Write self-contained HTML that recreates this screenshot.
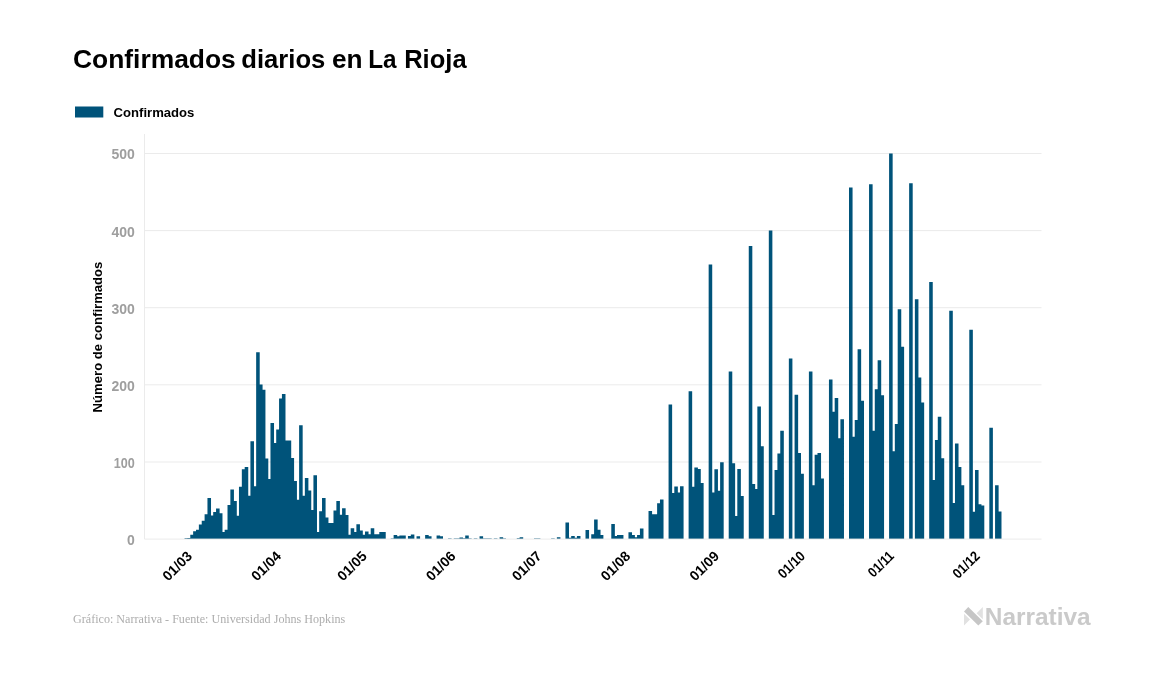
<!DOCTYPE html>
<html lang="es">
<head>
<meta charset="utf-8">
<title>Confirmados diarios en La Rioja</title>
<style>
html,body{margin:0;padding:0;background:#fff;}
body{width:1157px;height:674px;overflow:hidden;position:relative;font-family:"Liberation Sans",sans-serif;}
svg{position:absolute;left:0;top:0;will-change:transform;}
svg text{font-family:"Liberation Sans",sans-serif;}
.title{font-weight:700;font-size:26.5px;fill:#000;}
.legend{font-weight:700;font-size:13.7px;fill:#000;}
.ylab text{font-weight:700;font-size:14px;fill:#9e9e9e;}
.xlab text{font-weight:700;font-size:14px;fill:#000;}
.ytitle{font-weight:700;font-size:13.4px;fill:#000;}
.foot{font-family:"Liberation Serif",serif;font-size:12.6px;fill:#adadad;}
.logo{font-weight:700;font-size:24.5px;fill:#cacaca;}
.grid line{stroke:#ebebeb;stroke-width:1;}
</style>
</head>
<body>
<svg width="1157" height="674" viewBox="0 0 1157 674">
<rect width="1157" height="674" fill="#fff"/>
<g id="title" class="title"><text x="73.0" y="67.7" textLength="162.8" lengthAdjust="spacingAndGlyphs">Confirmados</text><text x="241.3" y="67.7" textLength="84.0" lengthAdjust="spacingAndGlyphs">diarios</text><text x="332.0" y="67.7" textLength="30.6" lengthAdjust="spacingAndGlyphs">en</text><text x="368.2" y="67.7" textLength="28.4" lengthAdjust="spacingAndGlyphs">La</text><text x="404.2" y="67.7" textLength="62.4" lengthAdjust="spacingAndGlyphs">Rioja</text></g>
<rect id="swatch" x="75" y="106.5" width="28.3" height="11" fill="#00537a"/>
<text id="legend" class="legend" x="113.6" y="116.9" textLength="80.8" lengthAdjust="spacingAndGlyphs">Confirmados</text>
<g class="grid"><line x1="144.5" y1="462.0" x2="1041.5" y2="462.0"/><line x1="144.5" y1="384.8" x2="1041.5" y2="384.8"/><line x1="144.5" y1="307.7" x2="1041.5" y2="307.7"/><line x1="144.5" y1="230.6" x2="1041.5" y2="230.6"/><line x1="144.5" y1="153.5" x2="1041.5" y2="153.5"/>
<line x1="144.5" y1="134" x2="144.5" y2="539.1"/>
</g>
<g class="ylab" id="ylab"><text x="134.8" y="545.0" text-anchor="end">0</text><text x="134.8" y="467.9" text-anchor="end" textLength="21" lengthAdjust="spacingAndGlyphs">100</text><text x="134.8" y="390.7" text-anchor="end">200</text><text x="134.8" y="313.6" text-anchor="end">300</text><text x="134.8" y="236.5" text-anchor="end">400</text><text x="134.8" y="159.4" text-anchor="end">500</text></g>
<text id="ytitle" class="ytitle" transform="translate(102 337) rotate(-90)" text-anchor="middle" textLength="150.8" lengthAdjust="spacingAndGlyphs">Número de confirmados</text>
<path id="bars" fill="#00537a" d="M184.55 539V538.3h3.56V539zM187.41 539V538.1h3.56V539zM190.28 539V534.7h3.56V539zM193.14 539V531.2h3.56V539zM196.01 539V529.7h3.56V539zM198.87 539V524.5h3.56V539zM201.73 539V520.7h3.56V539zM204.60 539V514.3h3.56V539zM207.46 539V497.9h3.56V539zM210.33 539V515.6h3.56V539zM213.19 539V512.0h3.56V539zM216.05 539V508.5h3.56V539zM218.92 539V513.2h3.56V539zM221.78 539V532.0h3.56V539zM224.65 539V529.7h3.56V539zM227.51 539V505.1h3.56V539zM230.37 539V489.4h3.56V539zM233.24 539V501.1h3.56V539zM236.10 539V515.8h3.56V539zM238.97 539V486.8h3.56V539zM241.83 539V469.3h3.56V539zM244.69 539V467.0h3.56V539zM247.56 539V495.8h3.56V539zM250.42 539V441.3h3.56V539zM253.29 539V486.3h3.56V539zM256.15 539V352.3h3.56V539zM259.01 539V384.5h3.56V539zM261.88 539V389.8h3.56V539zM264.74 539V458.6h3.56V539zM267.61 539V479.0h3.56V539zM270.47 539V423.0h3.56V539zM273.33 539V443.0h3.56V539zM276.20 539V429.4h3.56V539zM279.06 539V398.5h3.56V539zM281.93 539V394.1h3.56V539zM284.79 539V440.5h3.56V539zM287.65 539V440.5h3.56V539zM290.52 539V458.1h3.56V539zM293.38 539V481.1h3.56V539zM296.25 539V499.8h3.56V539zM299.11 539V425.2h3.56V539zM301.97 539V495.8h3.56V539zM304.84 539V478.0h3.56V539zM307.70 539V490.6h3.56V539zM310.57 539V510.0h3.56V539zM313.43 539V475.2h3.56V539zM316.29 539V532.1h3.56V539zM319.16 539V511.3h3.56V539zM322.02 539V497.9h3.56V539zM324.89 539V517.4h3.56V539zM327.75 539V523.1h3.56V539zM330.61 539V523.1h3.56V539zM333.48 539V510.5h3.56V539zM336.34 539V501.0h3.56V539zM339.21 539V514.8h3.56V539zM342.07 539V508.2h3.56V539zM344.93 539V515.1h3.56V539zM347.80 539V534.7h3.56V539zM350.66 539V528.3h3.56V539zM353.53 539V532.1h3.56V539zM356.39 539V524.3h3.56V539zM359.25 539V530.4h3.56V539zM362.12 539V534.7h3.56V539zM364.98 539V531.6h3.56V539zM367.85 539V534.2h3.56V539zM370.71 539V528.2h3.56V539zM373.57 539V534.3h3.56V539zM376.44 539V534.3h3.56V539zM379.30 539V532.1h3.56V539zM382.17 539V532.1h3.56V539zM390.76 539V538.4h3.56V539zM393.62 539V535.1h3.56V539zM396.49 539V536.3h3.56V539zM399.35 539V535.4h3.56V539zM402.21 539V535.4h3.56V539zM407.94 539V536.1h3.56V539zM410.81 539V534.5h3.56V539zM416.53 539V536.3h3.56V539zM425.13 539V535.1h3.56V539zM427.99 539V536.3h3.56V539zM436.58 539V535.5h3.56V539zM439.45 539V536.3h3.56V539zM448.04 539V538.4h3.56V539zM453.77 539V538.4h3.56V539zM456.63 539V538.4h3.56V539zM459.49 539V537.5h3.56V539zM462.36 539V538.2h3.56V539zM465.22 539V535.4h3.56V539zM468.09 539V538.4h3.56V539zM473.81 539V538.4h3.56V539zM479.54 539V536.3h3.56V539zM482.41 539V538.4h3.56V539zM485.27 539V538.4h3.56V539zM488.13 539V538.4h3.56V539zM493.86 539V538.4h3.56V539zM499.59 539V537.3h3.56V539zM502.45 539V538.4h3.56V539zM516.77 539V538.2h3.56V539zM519.64 539V537.3h3.56V539zM533.96 539V538.4h3.56V539zM536.82 539V538.4h3.56V539zM551.14 539V538.4h3.56V539zM556.87 539V537.3h3.56V539zM565.46 539V522.4h3.56V539zM568.33 539V537.8h3.56V539zM571.19 539V536.1h3.56V539zM574.05 539V537.8h3.56V539zM576.92 539V536.1h3.56V539zM585.51 539V530.0h3.56V539zM591.24 539V534.2h3.56V539zM594.10 539V519.4h3.56V539zM596.97 539V529.7h3.56V539zM599.83 539V535.1h3.56V539zM611.29 539V524.0h3.56V539zM614.15 539V536.1h3.56V539zM617.01 539V535.1h3.56V539zM619.88 539V535.1h3.56V539zM628.47 539V532.2h3.56V539zM631.33 539V535.1h3.56V539zM634.20 539V537.2h3.56V539zM637.06 539V535.1h3.56V539zM639.93 539V528.4h3.56V539zM648.52 539V511.1h3.56V539zM651.38 539V514.3h3.56V539zM654.25 539V514.3h3.56V539zM657.11 539V503.2h3.56V539zM659.97 539V499.5h3.56V539zM668.57 539V404.5h3.56V539zM671.43 539V493.1h3.56V539zM674.29 539V486.5h3.56V539zM677.16 539V492.5h3.56V539zM680.02 539V486.2h3.56V539zM688.61 539V391.2h3.56V539zM691.48 539V486.8h3.56V539zM694.34 539V467.4h3.56V539zM697.21 539V468.9h3.56V539zM700.07 539V483.1h3.56V539zM708.66 539V264.6h3.56V539zM711.53 539V492.6h3.56V539zM714.39 539V469.3h3.56V539zM717.25 539V490.7h3.56V539zM720.12 539V462.3h3.56V539zM728.71 539V371.4h3.56V539zM731.57 539V463.2h3.56V539zM734.44 539V515.9h3.56V539zM737.30 539V468.9h3.56V539zM740.17 539V496.0h3.56V539zM748.76 539V246.1h3.56V539zM751.62 539V484.0h3.56V539zM754.49 539V489.1h3.56V539zM757.35 539V406.6h3.56V539zM760.21 539V446.3h3.56V539zM768.81 539V230.4h3.56V539zM771.67 539V515.1h3.56V539zM774.53 539V470.1h3.56V539zM777.40 539V453.4h3.56V539zM780.26 539V430.7h3.56V539zM788.85 539V358.4h3.56V539zM794.58 539V394.7h3.56V539zM797.45 539V453.0h3.56V539zM800.31 539V473.8h3.56V539zM808.90 539V371.5h3.56V539zM811.77 539V485.3h3.56V539zM814.63 539V454.7h3.56V539zM817.49 539V453.0h3.56V539zM820.36 539V478.4h3.56V539zM828.95 539V379.5h3.56V539zM831.81 539V411.8h3.56V539zM834.68 539V397.9h3.56V539zM837.54 539V438.3h3.56V539zM840.41 539V419.2h3.56V539zM849.00 539V187.5h3.56V539zM851.86 539V436.8h3.56V539zM854.73 539V419.9h3.56V539zM857.59 539V349.3h3.56V539zM860.45 539V400.8h3.56V539zM869.05 539V184.3h3.56V539zM871.91 539V430.7h3.56V539zM874.77 539V389.3h3.56V539zM877.64 539V360.2h3.56V539zM880.50 539V395.2h3.56V539zM889.09 539V153.4h3.56V539zM891.96 539V451.2h3.56V539zM894.82 539V424.1h3.56V539zM897.69 539V309.3h3.56V539zM900.55 539V346.7h3.56V539zM909.14 539V183.2h3.56V539zM914.87 539V299.3h3.56V539zM917.73 539V377.6h3.56V539zM920.60 539V402.5h3.56V539zM929.19 539V282.0h3.56V539zM932.05 539V479.9h3.56V539zM934.92 539V440.0h3.56V539zM937.78 539V416.7h3.56V539zM940.65 539V458.3h3.56V539zM949.24 539V310.8h3.56V539zM952.10 539V502.9h3.56V539zM954.97 539V443.6h3.56V539zM957.83 539V466.9h3.56V539zM960.69 539V485.3h3.56V539zM969.29 539V329.7h3.56V539zM972.15 539V511.7h3.56V539zM975.01 539V470.1h3.56V539zM977.88 539V504.3h3.56V539zM980.74 539V505.6h3.56V539zM989.33 539V427.7h3.56V539zM995.06 539V485.3h3.56V539zM997.93 539V511.5h3.56V539z"/>
<g class="grid"><line x1="144.5" y1="539.1" x2="1041.5" y2="539.1"/></g>
<g class="xlab" id="xlab"><text transform="translate(193.1 556.9) rotate(-45)" text-anchor="end">01/03</text><text transform="translate(281.9 556.9) rotate(-45)" text-anchor="end">01/04</text><text transform="translate(367.8 556.9) rotate(-45)" text-anchor="end">01/05</text><text transform="translate(456.6 556.9) rotate(-45)" text-anchor="end">01/06</text><text transform="translate(542.5 556.9) rotate(-45)" text-anchor="end">01/07</text><text transform="translate(631.3 556.9) rotate(-45)" text-anchor="end">01/08</text><text transform="translate(720.1 556.9) rotate(-45)" text-anchor="end">01/09</text><text transform="translate(806.0 556.9) rotate(-45)" text-anchor="end" textLength="31.7" lengthAdjust="spacingAndGlyphs">01/10</text><text transform="translate(894.8 556.9) rotate(-45)" text-anchor="end" textLength="30.0" lengthAdjust="spacingAndGlyphs">01/11</text><text transform="translate(980.7 556.9) rotate(-45)" text-anchor="end" textLength="31.7" lengthAdjust="spacingAndGlyphs">01/12</text></g>
<text id="foot" class="foot" x="73" y="623.2" textLength="272.3" lengthAdjust="spacingAndGlyphs">Gráfico: Narrativa - Fuente: Universidad Johns Hopkins</text>
<g id="logo">
<path d="M968.3 607L982.8 621.3L978.3 625.4L964 611.6z" fill="#c6c6c6"/>
<path d="M964 613.8V625.4L970 619.5z" fill="#e1e1e1"/>
<path d="M982.8 607V619.2L976.6 613.2z" fill="#e1e1e1"/>
<text id="logotext" class="logo" x="984.8" y="625.3" textLength="105.8" lengthAdjust="spacingAndGlyphs">Narrativa</text>
</g>
</svg>
</body>
</html>
